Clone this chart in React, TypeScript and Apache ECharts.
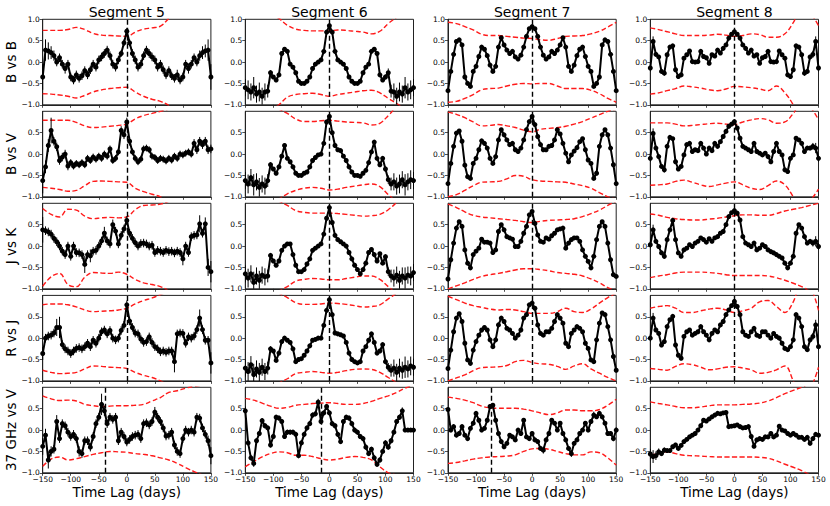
import React, { useEffect, useRef } from "react";
import * as echarts from "echarts";

const FONT = "DejaVu Sans";

const LAGS = [
  -150, -145, -140, -135, -130, -125, -120, -115, -110, -105,
  -100, -95, -90, -85, -80, -75, -70, -65, -60, -55,
  -50, -45, -40, -35, -30, -25, -20, -15, -10, -5,
  0, 5, 10, 15, 20, 25, 30, 35, 40, 45,
  50, 55, 60, 65, 70, 75, 80, 85, 90, 95,
  100, 105, 110, 115, 120, 125, 130, 135, 140, 145,
  150,
];
const BAND_LAGS = [-150, -135, -120, -105, -90, -75, -60, -45, -30, -15, 0, 15, 30, 45, 60, 75, 90, 105, 120, 135, 150];
const X_TICKS = [-150, -100, -50, 0, 50, 100, 150];
const Y_TICKS = [-1, -0.5, 0, 0.5, 1];

const SEGMENTS = ["Segment 5", "Segment 6", "Segment 7", "Segment 8"];
const PAIRS = ["B vs B", "B vs V", "J vs K", "R vs J", "37 GHz vs V"];

// ---------------- Segment 5 ----------------
const S5_BB = [
  -0.35, 0.28, 0.26, 0.22, 0.15, 0.0, 0.1, -0.05, -0.15, -0.05,
  -0.35, -0.42, -0.3, -0.38, -0.32, -0.2, -0.3, -0.18, -0.05, -0.12,
  0.05, 0.12, 0.2, 0.28, 0.15, -0.05, -0.12, 0.05, 0.2, 0.45,
  0.72, 0.45, 0.2, 0.05, -0.12, -0.05, 0.15, 0.28, 0.2, 0.12,
  0.05, -0.12, -0.05, -0.18, -0.3, -0.2, -0.32, -0.38, -0.3, -0.42,
  -0.35, -0.05, -0.15, -0.05, 0.1, 0.0, 0.15, 0.22, 0.26, 0.28,
  -0.35,
];
const S5_BV = [
  -0.62, -0.3, 0.2, 0.55, 0.3, 0.17, -0.15, -0.07, 0.0, -0.28,
  -0.2, -0.28, -0.22, -0.25, -0.2, -0.25, -0.1, -0.15, -0.07, -0.12,
  -0.05, -0.1, 0.0, -0.05, 0.12, -0.15, -0.1, 0.05, 0.55, 0.45,
  0.75, 0.3, 0.05, -0.1, -0.18, -0.12, 0.12, 0.14, 0.1, -0.05,
  -0.08, -0.15, -0.1, -0.12, -0.16, -0.1, -0.14, -0.05, -0.1, 0.0,
  -0.02, 0.02, 0.05, 0.0, 0.25, 0.1, 0.3, 0.22, 0.3, 0.1,
  0.12,
];
const S5_JK = [
  0.38, 0.36, 0.33, 0.28, 0.18, 0.1, 0.0, -0.12, -0.2, 0.0,
  -0.24, 0.0, -0.15, -0.16, -0.2, -0.43, -0.2, -0.23, -0.12, -0.1,
  0.0, 0.12, 0.3, 0.12, 0.05, 0.5, 0.35, 0.05, 0.25, 0.4,
  0.6, 0.3, 0.18, 0.08, 0.0, 0.06, 0.07, 0.05, 0.0, 0.02,
  -0.15, -0.1, -0.12, -0.15, -0.1, -0.13, -0.12, -0.16, -0.12, -0.15,
  -0.3, 0.0, -0.15, 0.22, 0.25, 0.26, 0.52, 0.3, 0.52, -0.5,
  -0.6,
];
const S5_RJ = [
  -0.36, 0.0, 0.05, 0.07, 0.12, 0.25, 0.25, -0.15, -0.25, -0.3,
  -0.36, -0.3, -0.24, -0.22, -0.25, -0.2, -0.12, -0.2, -0.05, -0.12,
  0.0, 0.15, 0.19, 0.1, 0.18, 0.0, -0.04, 0.0, 0.18, 0.3,
  0.78, 0.4, 0.25, 0.12, 0.1, -0.02, -0.1, -0.08, 0.03, -0.1,
  -0.2, -0.25, -0.32, -0.3, -0.33, -0.3, -0.3, -0.55, 0.1, 0.12,
  0.11, -0.12, 0.03, 0.0, 0.05, 0.2, 0.47, 0.2, -0.05, -0.05,
  -0.58,
];
const S5_GV = [
  -0.38, -0.12, -0.7, -0.5, -0.45, 0.2, -0.2, 0.15, 0.1, -0.05,
  -0.15, -0.1, -0.2, -0.5, -0.55, -0.25, -0.25, -0.4, -0.15, 0.15,
  0.3, 0.6, 0.45, 0.15, 0.3, 0.25, 0.3, -0.25, -0.05, -0.15,
  -0.28, -0.22, -0.15, -0.12, -0.1, -0.2, 0.15, 0.17, 0.12, 0.2,
  0.42, 0.3, 0.2, 0.05, -0.14, -0.12, -0.05, -0.35, -0.5, -0.55,
  -0.2, 0.0, -0.05, 0.0, -0.05, 0.3, 0.28, 0.05, -0.1, -0.25,
  -0.6,
];
const S5_BB_ERR = [
  0.3, 0.25, 0.2, 0.15, 0.12, 0.1, 0.1, 0.1, 0.12, 0.1,
  0.1, 0.1, 0.1, 0.1, 0.1, 0.1, 0.1, 0.1, 0.1, 0.1,
  0.1, 0.1, 0.1, 0.1, 0.1, 0.1, 0.1, 0.1, 0.08, 0.08,
  0.08, 0.08, 0.1, 0.1, 0.1, 0.1, 0.1, 0.1, 0.1, 0.1,
  0.1, 0.1, 0.1, 0.1, 0.1, 0.1, 0.1, 0.1, 0.12, 0.1,
  0.1, 0.1, 0.12, 0.1, 0.1, 0.1, 0.12, 0.15, 0.15, 0.25,
  0.3,
];
const S5_BV_ERR = [
  0.3, 0.15, 0.15, 0.3, 0.1, 0.1, 0.1, 0.1, 0.1, 0.1,
  0.08, 0.08, 0.08, 0.08, 0.08, 0.08, 0.08, 0.08, 0.08, 0.08,
  0.08, 0.08, 0.08, 0.08, 0.08, 0.08, 0.08, 0.08, 0.1, 0.1,
  0.1, 0.1, 0.08, 0.08, 0.08, 0.08, 0.08, 0.08, 0.08, 0.08,
  0.08, 0.08, 0.08, 0.08, 0.08, 0.08, 0.08, 0.08, 0.08, 0.08,
  0.08, 0.08, 0.08, 0.08, 0.1, 0.1, 0.1, 0.1, 0.1, 0.1,
  0.1,
];
const S5_JK_ERR = [
  0.3, 0.1, 0.1, 0.1, 0.1, 0.1, 0.1, 0.1, 0.1, 0.1,
  0.1, 0.1, 0.1, 0.1, 0.1, 0.2, 0.1, 0.15, 0.1, 0.1,
  0.1, 0.1, 0.15, 0.1, 0.1, 0.12, 0.1, 0.1, 0.1, 0.1,
  0.1, 0.1, 0.1, 0.1, 0.1, 0.1, 0.1, 0.1, 0.1, 0.1,
  0.1, 0.1, 0.1, 0.1, 0.1, 0.1, 0.1, 0.1, 0.1, 0.1,
  0.15, 0.1, 0.1, 0.1, 0.1, 0.1, 0.2, 0.1, 0.15, 0.2,
  0.25,
];
const S5_RJ_ERR = [
  0.15, 0.1, 0.1, 0.1, 0.1, 0.2, 0.25, 0.1, 0.1, 0.1,
  0.1, 0.1, 0.1, 0.1, 0.1, 0.1, 0.1, 0.1, 0.1, 0.1,
  0.1, 0.1, 0.1, 0.1, 0.1, 0.1, 0.1, 0.1, 0.1, 0.1,
  0.1, 0.1, 0.1, 0.1, 0.1, 0.1, 0.1, 0.1, 0.1, 0.1,
  0.1, 0.1, 0.1, 0.1, 0.1, 0.1, 0.1, 0.25, 0.1, 0.1,
  0.1, 0.1, 0.1, 0.1, 0.1, 0.1, 0.2, 0.1, 0.1, 0.1,
  0.25,
];
const S5_GV_ERR = [
  0.2, 0.15, 0.2, 0.12, 0.1, 0.15, 0.1, 0.1, 0.1, 0.1,
  0.1, 0.1, 0.1, 0.12, 0.1, 0.1, 0.1, 0.1, 0.1, 0.1,
  0.1, 0.25, 0.12, 0.1, 0.1, 0.1, 0.1, 0.1, 0.1, 0.1,
  0.1, 0.1, 0.1, 0.1, 0.1, 0.1, 0.1, 0.1, 0.1, 0.1,
  0.12, 0.1, 0.1, 0.1, 0.1, 0.1, 0.1, 0.1, 0.1, 0.1,
  0.1, 0.1, 0.1, 0.1, 0.1, 0.1, 0.1, 0.1, 0.1, 0.12,
  0.2,
];
const S5_BB_UP = [0.74, 0.74, 0.74, 0.76, 0.81, 0.76, 0.67, 0.63, 0.62, 0.61, 0.6, 0.7, 0.77, 0.8, 0.84, 1.02, 1.2, 1.3, 1.35, 1.4, 1.4];
const S5_BB_LO = [-0.74, -0.75, -0.77, -0.8, -0.84, -0.78, -0.7, -0.65, -0.62, -0.6, -0.59, -0.7, -0.8, -0.87, -0.92, -1.02, -1.2, -1.3, -1.4, -1.4, -1.4];
const S5_BV_UP = [0.79, 0.79, 0.79, 0.79, 0.74, 0.66, 0.62, 0.63, 0.65, 0.67, 0.7, 0.82, 0.9, 0.95, 1.0, 1.05, 1.1, 1.15, 1.2, 1.2, 1.2];
const S5_BV_LO = [-0.78, -0.8, -0.83, -0.87, -0.85, -0.74, -0.64, -0.63, -0.64, -0.65, -0.66, -0.8, -0.88, -0.94, -1.0, -1.1, -1.15, -1.2, -1.2, -1.2, -1.2];
const S5_JK_UP = [0.88, 0.74, 0.68, 0.86, 0.84, 0.7, 0.64, 0.66, 0.67, 0.66, 0.68, 0.85, 0.95, 0.96, 0.98, 1.05, 1.2, 1.2, 1.2, 1.2, 1.2];
const S5_JK_LO = [-0.94, -0.72, -0.64, -0.9, -0.95, -0.73, -0.62, -0.63, -0.64, -0.61, -0.66, -0.78, -0.86, -0.9, -0.95, -1.05, -1.2, -1.2, -1.2, -1.2, -1.2];
const S5_RJ_UP = [0.78, 0.8, 0.8, 0.78, 0.73, 0.66, 0.62, 0.63, 0.64, 0.66, 0.7, 0.8, 0.88, 0.94, 1.02, 1.1, 1.2, 1.2, 1.2, 1.2, 1.2];
const S5_RJ_LO = [-0.75, -0.8, -0.83, -0.82, -0.8, -0.72, -0.65, -0.66, -0.68, -0.69, -0.71, -0.8, -0.87, -0.92, -1.0, -1.1, -1.2, -1.2, -1.2, -1.2, -1.2];
const S5_GV_UP = [0.8, 0.73, 0.69, 0.7, 0.68, 0.6, 0.57, 0.55, 0.56, 0.57, 0.57, 0.58, 0.6, 0.68, 0.76, 0.88, 0.92, 0.98, 1.02, 1.05, 1.1];
const S5_GV_LO = [-0.85, -0.68, -0.63, -0.7, -0.67, -0.62, -0.57, -0.53, -0.5, -0.51, -0.52, -0.55, -0.57, -0.6, -0.65, -0.7, -0.78, -0.88, -0.97, -1.05, -1.1];

// ---------------- Segment 6 ----------------
const S6_BB = [
  -0.6, -0.65, -0.7, -0.6, -0.75, -0.7, -0.8, -0.7, -0.68, -0.25,
  -0.35, -0.42, -0.3, 0.2, 0.3, 0.25, -0.05, -0.12, -0.25, -0.45,
  -0.5, -0.5, -0.45, -0.35, -0.15, -0.05, 0.0, 0.05, 0.25, 0.7,
  0.85, 0.7, 0.25, 0.05, 0.0, -0.05, -0.15, -0.35, -0.45, -0.5,
  -0.5, -0.45, -0.25, -0.12, -0.05, 0.25, 0.3, 0.2, -0.3, -0.42,
  -0.35, -0.25, -0.68, -0.7, -0.8, -0.7, -0.75, -0.6, -0.7, -0.65,
  -0.6,
];
const S6_BV = [
  -0.62, -0.7, -0.55, -0.72, -0.65, -0.78, -0.7, -0.75, -0.62, -0.25,
  -0.35, -0.45, -0.3, -0.05, 0.2, -0.1, -0.18, -0.3, -0.45, -0.5,
  -0.5, -0.45, -0.42, -0.3, -0.15, -0.08, -0.02, 0.0, 0.25, 0.75,
  0.88, 0.5, 0.2, 0.1, 0.08, -0.05, -0.15, -0.3, -0.42, -0.5,
  -0.5, -0.52, -0.45, -0.38, -0.2, 0.05, 0.28, -0.1, -0.25, -0.1,
  -0.35, -0.6, -0.7, -0.65, -0.75, -0.7, -0.6, -0.72, -0.65, -0.6,
  -0.62,
];
const S6_JK = [
  -0.65, -0.75, -0.65, -0.85, -0.7, -0.8, -0.68, -0.72, -0.7, -0.22,
  -0.35, -0.45, -0.35, -0.1, 0.0, 0.05, 0.05, -0.2, -0.45, -0.6,
  -0.6, -0.55, -0.42, -0.3, -0.1, -0.05, 0.0, 0.05, 0.28, 0.65,
  0.9, 0.55, 0.25, 0.15, 0.1, 0.05, 0.0, -0.15, -0.3, -0.45,
  -0.55, -0.65, -0.55, -0.4, -0.15, -0.08, -0.2, -0.35, -0.18, -0.4,
  -0.25, -0.6, -0.7, -0.75, -0.68, -0.8, -0.7, -0.75, -0.68, -0.7,
  -0.62,
];
const S6_RJ = [
  -0.7, -0.78, -0.62, -0.85, -0.72, -0.8, -0.68, -0.78, -0.7, -0.25,
  -0.3, -0.52, -0.35, -0.08, 0.0, -0.05, -0.1, -0.25, -0.55, -0.5,
  -0.48, -0.4, -0.3, -0.18, -0.05, -0.03, 0.0, 0.0, 0.3, 0.65,
  0.9, 0.55, 0.12, 0.1, 0.08, 0.05, -0.1, -0.35, -0.5, -0.55,
  -0.58, -0.55, -0.3, -0.2, -0.05, 0.1, -0.1, -0.35, -0.3, -0.15,
  -0.55, -0.68, -0.75, -0.7, -0.8, -0.7, -0.75, -0.68, -0.72, -0.65,
  -0.68,
];
const S6_GV = [
  0.45, -0.3, -0.65, -0.78, -0.25, -0.08, 0.22, 0.1, 0.05, -0.35,
  -0.15, 0.3, 0.28, 0.2, -0.15, -0.05, -0.05, -0.05, -0.1, -0.6,
  -0.3, -0.1, 0.05, 0.15, 0.35, 0.38, 0.65, 0.2, 0.4, 0.55,
  0.4, 0.15, 0.1, -0.1, -0.27, 0.2, 0.3, 0.28, 0.15, 0.0,
  -0.05, -0.15, -0.2, -0.4, -0.55, -0.45, -0.65, -0.8, -0.7, -0.5,
  -0.3, -0.4, -0.25, -0.05, 0.2, 0.3, 0.45, 0.0, 0.0, 0.0,
  0.0,
];
const S6_ERR = [
  0.2, 0.22, 0.2, 0.25, 0.2, 0.22, 0.2, 0.2, 0.15, 0.06,
  0.04, 0.04, 0.04, 0.04, 0.04, 0.04, 0.04, 0.04, 0.04, 0.04,
  0.04, 0.04, 0.04, 0.04, 0.04, 0.04, 0.04, 0.04, 0.04, 0.04,
  0.04, 0.04, 0.04, 0.04, 0.04, 0.04, 0.04, 0.04, 0.04, 0.04,
  0.04, 0.04, 0.04, 0.04, 0.04, 0.04, 0.04, 0.04, 0.04, 0.04,
  0.06, 0.1, 0.15, 0.2, 0.2, 0.22, 0.2, 0.25, 0.2, 0.22,
  0.2,
];
const S6_GV_ERR = [
  0.1, 0.06, 0.06, 0.08, 0.06, 0.06, 0.06, 0.06, 0.06, 0.06,
  0.06, 0.06, 0.06, 0.06, 0.06, 0.06, 0.06, 0.06, 0.06, 0.06,
  0.06, 0.06, 0.06, 0.06, 0.06, 0.06, 0.08, 0.06, 0.06, 0.06,
  0.06, 0.06, 0.06, 0.06, 0.06, 0.06, 0.06, 0.06, 0.06, 0.06,
  0.06, 0.06, 0.06, 0.06, 0.06, 0.06, 0.06, 0.06, 0.06, 0.06,
  0.06, 0.06, 0.06, 0.06, 0.06, 0.06, 0.08, 0.04, 0.04, 0.04,
  0.04,
];
const S6_BB_UP = [1.5, 1.4, 1.25, 1.12, 1.02, 0.86, 0.77, 0.74, 0.73, 0.73, 0.73, 0.75, 0.74, 0.72, 0.7, 0.66, 0.72, 0.9, 1.05, 1.2, 1.3];
const S6_BB_LO = [-1.5, -1.4, -1.25, -1.1, -1.0, -0.82, -0.76, -0.74, -0.73, -0.76, -0.8, -0.76, -0.73, -0.7, -0.67, -0.66, -0.72, -0.85, -0.97, -1.1, -1.2];
const S6_BV_UP = [1.5, 1.4, 1.3, 1.15, 1.05, 0.95, 0.82, 0.76, 0.76, 0.78, 0.79, 0.77, 0.75, 0.74, 0.73, 0.68, 0.72, 0.9, 1.1, 1.2, 1.3];
const S6_BV_LO = [-1.5, -1.4, -1.3, -1.15, -1.05, -0.93, -0.85, -0.8, -0.78, -0.8, -0.84, -0.82, -0.78, -0.75, -0.72, -0.7, -0.76, -0.95, -1.1, -1.2, -1.3];
const S6_JK_UP = [1.5, 1.4, 1.3, 1.15, 1.05, 0.95, 0.83, 0.79, 0.77, 0.77, 0.77, 0.76, 0.74, 0.72, 0.7, 0.71, 0.74, 0.85, 1.02, 1.2, 1.3];
const S6_JK_LO = [-1.5, -1.4, -1.3, -1.15, -1.05, -0.95, -0.82, -0.78, -0.76, -0.77, -0.79, -0.79, -0.76, -0.73, -0.7, -0.7, -0.78, -0.95, -1.1, -1.2, -1.3];
const S6_RJ_UP = [1.5, 1.4, 1.3, 1.15, 1.05, 0.95, 0.83, 0.79, 0.79, 0.8, 0.82, 0.81, 0.79, 0.76, 0.73, 0.74, 0.78, 0.92, 1.05, 1.2, 1.3];
const S6_RJ_LO = [-1.5, -1.4, -1.3, -1.15, -1.05, -0.95, -0.83, -0.8, -0.78, -0.8, -0.82, -0.8, -0.76, -0.73, -0.72, -0.73, -0.8, -0.92, -1.05, -1.2, -1.3];
const S6_GV_UP = [0.74, 0.7, 0.63, 0.56, 0.51, 0.53, 0.58, 0.6, 0.62, 0.63, 0.64, 0.62, 0.6, 0.6, 0.62, 0.67, 0.74, 0.8, 0.88, 0.98, 1.05];
const S6_GV_LO = [-0.86, -0.74, -0.63, -0.55, -0.51, -0.53, -0.59, -0.59, -0.62, -0.67, -0.7, -0.68, -0.64, -0.62, -0.64, -0.7, -0.86, -1.0, -1.05, -1.08, -1.1];

// ---------------- Segment 7 ----------------
const S7_BB = [
  -0.67, -0.22, 0.18, 0.48, 0.52, 0.4, -0.35, -0.5, -0.57, -0.22,
  -0.1, 0.13, 0.35, 0.3, 0.15, -0.07, -0.22, -0.1, 0.35, 0.57,
  0.4, 0.28, 0.2, 0.25, 0.12, 0.07, 0.16, 0.35, 0.6, 0.78,
  0.83, 0.78, 0.6, 0.35, 0.16, 0.07, 0.12, 0.25, 0.2, 0.28,
  0.4, 0.57, 0.35, -0.1, -0.22, -0.07, 0.15, 0.3, 0.35, 0.13,
  -0.1, -0.22, -0.57, -0.5, -0.35, 0.4, 0.52, 0.48, 0.18, -0.22,
  -0.67,
];
const S7_BV = [
  -0.69, -0.22, 0.18, 0.49, 0.54, 0.3, -0.26, -0.53, -0.57, -0.22,
  -0.1, 0.1, 0.31, 0.25, 0.14, -0.1, -0.22, -0.06, 0.33, 0.57,
  0.45, 0.33, 0.22, 0.25, 0.1, 0.06, 0.14, 0.33, 0.57, 0.76,
  0.88, 0.69, 0.41, 0.22, 0.1, 0.1, 0.18, 0.2, 0.33, 0.57,
  0.47, 0.25, 0.02, -0.18, -0.02, 0.07, 0.15, 0.29, 0.36, 0.1,
  -0.14, -0.22, -0.57, -0.45, 0.18, 0.45, 0.57, 0.45, 0.14, -0.25,
  -0.69,
];
const S7_JK = [
  -0.77, -0.32, 0.07, 0.42, 0.57, 0.46, -0.09, -0.4, -0.51, -0.2,
  -0.12, -0.05, 0.16, 0.09, 0.09, 0.07, -0.15, -0.09, 0.34, 0.5,
  0.38, 0.22, 0.19, 0.16, -0.01, -0.01, 0.11, 0.3, 0.46, 0.73,
  0.81, 0.53, 0.26, 0.11, 0.09, 0.19, 0.16, 0.24, 0.3, 0.38,
  0.4, 0.42, -0.05, 0.07, 0.15, 0.19, 0.19, 0.11, -0.09, -0.24,
  -0.36, -0.51, -0.24, 0.15, 0.46, 0.57, 0.46, 0.07, -0.32, -0.67,
  -0.71,
];
const S7_RJ = [
  -0.71, -0.28, 0.15, 0.47, 0.57, 0.39, -0.12, -0.51, -0.59, -0.28,
  -0.08, 0.07, 0.19, 0.25, 0.19, -0.04, -0.2, -0.04, 0.31, 0.47,
  0.39, 0.23, 0.19, 0.11, 0.0, 0.07, 0.19, 0.47, 0.55, 0.78,
  0.82, 0.7, 0.31, 0.11, 0.07, 0.15, 0.15, 0.23, 0.39, 0.55,
  0.47, 0.35, -0.12, -0.2, 0.11, 0.19, 0.27, 0.23, 0.15, -0.12,
  -0.24, -0.51, -0.55, -0.04, 0.35, 0.59, 0.55, 0.27, -0.04, -0.43,
  -0.75,
];
const S7_GV = [
  0.48, 0.0, 0.08, -0.12, -0.08, 0.08, -0.12, -0.2, 0.04, 0.16,
  0.39, 0.23, 0.0, 0.04, 0.23, 0.55, 0.58, 0.23, -0.08, -0.27,
  -0.39, -0.31, -0.12, -0.16, -0.23, 0.0, -0.08, 0.23, -0.16, -0.2,
  -0.08, -0.23, -0.27, -0.43, -0.47, -0.23, -0.08, 0.23, 0.16, 0.0,
  0.16, -0.08, -0.23, -0.43, -0.55, -0.31, -0.23, -0.08, 0.0, 0.16,
  0.0, 0.2, 0.35, 0.31, 0.39, 0.31, 0.16, -0.08, -0.08, -0.2,
  0.0,
];
const S7_ERR = [
  0.03, 0.03, 0.03, 0.03, 0.03, 0.03, 0.03, 0.03, 0.03, 0.03,
  0.03, 0.03, 0.03, 0.03, 0.03, 0.03, 0.03, 0.03, 0.03, 0.03,
  0.03, 0.03, 0.03, 0.03, 0.03, 0.03, 0.03, 0.03, 0.03, 0.03,
  0.03, 0.03, 0.03, 0.03, 0.03, 0.03, 0.03, 0.03, 0.03, 0.03,
  0.03, 0.03, 0.03, 0.03, 0.03, 0.03, 0.03, 0.03, 0.03, 0.03,
  0.03, 0.03, 0.03, 0.03, 0.03, 0.03, 0.03, 0.03, 0.03, 0.03,
  0.03,
];
const S7_GV_ERR = [
  0.06, 0.05, 0.05, 0.05, 0.05, 0.05, 0.05, 0.05, 0.05, 0.05,
  0.05, 0.05, 0.05, 0.05, 0.05, 0.05, 0.05, 0.05, 0.05, 0.05,
  0.05, 0.05, 0.05, 0.05, 0.05, 0.05, 0.05, 0.05, 0.05, 0.05,
  0.05, 0.05, 0.05, 0.05, 0.08, 0.05, 0.05, 0.05, 0.05, 0.05,
  0.05, 0.05, 0.05, 0.05, 0.08, 0.05, 0.05, 0.05, 0.05, 0.05,
  0.05, 0.05, 0.08, 0.05, 0.05, 0.05, 0.05, 0.05, 0.05, 0.06,
  0.06,
];
const S7_BB_UP = [0.93, 0.9, 0.83, 0.75, 0.65, 0.62, 0.62, 0.6, 0.58, 0.56, 0.55, 0.52, 0.51, 0.55, 0.6, 0.61, 0.62, 0.66, 0.72, 0.82, 0.93];
const S7_BB_LO = [-0.94, -0.92, -0.85, -0.76, -0.65, -0.62, -0.61, -0.56, -0.52, -0.5, -0.51, -0.5, -0.5, -0.56, -0.62, -0.62, -0.62, -0.66, -0.74, -0.85, -0.94];
const S7_BV_UP = [0.98, 0.93, 0.85, 0.75, 0.66, 0.67, 0.69, 0.66, 0.62, 0.56, 0.52, 0.58, 0.6, 0.62, 0.65, 0.7, 0.76, 0.84, 0.92, 1.0, 1.05];
const S7_BV_LO = [-1.0, -0.95, -0.85, -0.74, -0.66, -0.65, -0.64, -0.58, -0.5, -0.52, -0.6, -0.63, -0.64, -0.65, -0.66, -0.7, -0.74, -0.8, -0.9, -1.0, -1.05];
const S7_JK_UP = [0.98, 0.9, 0.8, 0.72, 0.68, 0.66, 0.64, 0.62, 0.6, 0.57, 0.55, 0.58, 0.6, 0.61, 0.62, 0.64, 0.69, 0.76, 0.84, 0.95, 1.05];
const S7_JK_LO = [-1.0, -0.93, -0.86, -0.78, -0.71, -0.67, -0.64, -0.6, -0.56, -0.53, -0.53, -0.55, -0.58, -0.62, -0.64, -0.66, -0.7, -0.77, -0.86, -0.97, -1.05];
const S7_RJ_UP = [0.98, 0.9, 0.82, 0.76, 0.72, 0.68, 0.66, 0.67, 0.66, 0.62, 0.58, 0.58, 0.58, 0.62, 0.7, 0.62, 0.6, 0.68, 0.82, 0.95, 1.05];
const S7_RJ_LO = [-1.0, -0.93, -0.86, -0.76, -0.69, -0.68, -0.67, -0.64, -0.55, -0.52, -0.57, -0.6, -0.61, -0.66, -0.73, -0.65, -0.6, -0.72, -0.82, -0.92, -1.0];
const S7_GV_UP = [0.77, 0.74, 0.7, 0.64, 0.56, 0.52, 0.51, 0.51, 0.51, 0.49, 0.45, 0.4, 0.36, 0.4, 0.47, 0.47, 0.45, 0.45, 0.48, 0.58, 0.72];
const S7_GV_LO = [-0.78, -0.76, -0.72, -0.68, -0.65, -0.63, -0.62, -0.61, -0.58, -0.5, -0.44, -0.43, -0.45, -0.5, -0.55, -0.58, -0.58, -0.51, -0.53, -0.65, -0.82];

// ---------------- Segment 8 ----------------
const S8_BB = [
  -0.14, 0.48, 0.18, 0.12, -0.22, -0.26, 0.17, 0.35, 0.38, -0.18,
  -0.34, -0.3, 0.09, 0.17, 0.26, 0.01, 0.0, 0.01, 0.25, 0.13,
  0.1, -0.03, 0.17, 0.14, 0.28, 0.21, 0.32, 0.4, 0.56, 0.65,
  0.71, 0.65, 0.56, 0.4, 0.32, 0.21, 0.28, 0.14, 0.17, -0.03,
  0.1, 0.13, 0.25, 0.01, 0.0, 0.01, 0.26, 0.17, 0.09, -0.3,
  -0.34, -0.18, 0.38, 0.35, 0.17, -0.26, -0.22, 0.12, 0.18, 0.48,
  -0.14,
];
const S8_BV = [
  -0.1, 0.48, 0.14, -0.06, -0.29, -0.37, 0.18, 0.39, 0.36, -0.18,
  -0.35, -0.29, -0.02, 0.22, 0.25, 0.06, 0.1, 0.08, 0.25, 0.14,
  0.0, 0.14, 0.08, 0.25, 0.18, 0.29, 0.41, 0.53, 0.65, 0.7,
  0.76, 0.61, 0.37, 0.18, 0.14, 0.1, 0.06, 0.25, 0.06, 0.02,
  -0.02, 0.02, -0.06, -0.18, 0.06, 0.25, 0.06, -0.02, -0.37, -0.41,
  -0.1, -0.02, 0.37, 0.33, 0.25, 0.06, 0.14, 0.14, 0.18, 0.14,
  -0.1,
];
const S8_JK = [
  0.03, 0.38, 0.11, -0.01, -0.16, -0.24, 0.15, 0.38, 0.6, 0.15,
  -0.16, -0.24, -0.09, -0.05, 0.03, -0.01, 0.07, 0.11, 0.19, 0.15,
  0.09, 0.17, 0.11, 0.19, 0.22, 0.3, 0.34, 0.5, 0.69, 0.78,
  0.83, 0.77, 0.61, 0.22, 0.07, 0.03, -0.01, 0.07, -0.09, -0.05,
  0.03, -0.01, -0.09, -0.13, -0.16, -0.2, -0.24, -0.28, -0.4, -0.51,
  -0.4, -0.24, 0.3, 0.5, 0.42, 0.22, 0.07, 0.11, 0.07, 0.11,
  -0.01,
];
const S8_RJ = [
  0.0, 0.47, 0.19, 0.11, -0.16, -0.08, 0.27, 0.43, 0.51, -0.16,
  -0.4, -0.47, 0.04, 0.15, 0.19, 0.07, 0.11, 0.15, 0.27, 0.15,
  0.07, -0.04, 0.11, 0.19, 0.15, 0.31, 0.39, 0.55, 0.66, 0.76,
  0.86, 0.74, 0.55, 0.15, 0.07, 0.04, 0.15, 0.23, 0.07, 0.04,
  0.15, 0.15, 0.07, 0.0, 0.11, 0.04, 0.0, -0.12, -0.24, -0.27,
  -0.2, -0.04, 0.55, 0.47, 0.27, -0.2, -0.27, -0.04, 0.04, 0.31,
  -0.2,
];
const S8_GV = [
  -0.56, -0.62, -0.6, -0.51, -0.55, -0.47, -0.48, -0.48, -0.39, -0.35,
  -0.43, -0.36, -0.27, -0.22, -0.16, -0.12, -0.08, 0.0, 0.1, 0.23,
  0.21, 0.26, 0.31, 0.35, 0.39, 0.38, 0.4, 0.41, 0.08, 0.09,
  0.1, 0.12, 0.08, 0.05, 0.06, 0.08, -0.15, -0.38, -0.23, -0.2,
  -0.22, -0.16, -0.16, -0.08, -0.16, -0.12, 0.09, 0.0, -0.02, -0.08,
  -0.12, -0.08, -0.12, -0.17, -0.17, -0.22, -0.17, -0.31, -0.2, -0.1,
  -0.12,
];
const S8_ERR = [
  0.08, 0.12, 0.05, 0.05, 0.05, 0.06, 0.04, 0.04, 0.04, 0.04,
  0.04, 0.04, 0.04, 0.04, 0.04, 0.04, 0.04, 0.04, 0.04, 0.04,
  0.04, 0.04, 0.04, 0.04, 0.04, 0.04, 0.04, 0.04, 0.04, 0.04,
  0.04, 0.04, 0.04, 0.04, 0.04, 0.04, 0.04, 0.04, 0.04, 0.04,
  0.04, 0.04, 0.04, 0.04, 0.04, 0.04, 0.04, 0.04, 0.04, 0.04,
  0.04, 0.04, 0.04, 0.04, 0.04, 0.06, 0.05, 0.05, 0.08, 0.12,
  0.08,
];
const S8_GV_ERR = [
  0.12, 0.15, 0.1, 0.08, 0.06, 0.06, 0.05, 0.05, 0.05, 0.05,
  0.05, 0.04, 0.04, 0.04, 0.04, 0.04, 0.04, 0.04, 0.04, 0.04,
  0.04, 0.04, 0.04, 0.04, 0.04, 0.04, 0.04, 0.04, 0.04, 0.04,
  0.04, 0.04, 0.04, 0.04, 0.04, 0.04, 0.04, 0.04, 0.04, 0.04,
  0.04, 0.04, 0.04, 0.04, 0.04, 0.04, 0.04, 0.04, 0.04, 0.04,
  0.04, 0.04, 0.04, 0.04, 0.04, 0.04, 0.04, 0.05, 0.05, 0.05,
  0.05,
];
const S8_BB_UP = [0.8, 0.76, 0.71, 0.66, 0.62, 0.62, 0.62, 0.63, 0.65, 0.63, 0.6, 0.62, 0.66, 0.64, 0.58, 0.58, 0.66, 0.92, 1.25, 1.15, 0.85];
const S8_BB_LO = [-0.75, -0.72, -0.67, -0.62, -0.56, -0.58, -0.61, -0.65, -0.67, -0.63, -0.57, -0.58, -0.6, -0.63, -0.67, -0.56, -0.72, -1.0, -1.4, -1.5, -1.5];
const S8_BV_UP = [0.73, 0.73, 0.73, 0.7, 0.66, 0.67, 0.69, 0.71, 0.72, 0.7, 0.69, 0.75, 0.8, 0.83, 0.8, 0.72, 0.75, 0.95, 1.2, 1.1, 0.8];
const S8_BV_LO = [-0.73, -0.72, -0.7, -0.64, -0.61, -0.66, -0.72, -0.76, -0.72, -0.68, -0.65, -0.72, -0.8, -0.83, -0.74, -0.63, -0.72, -1.0, -1.3, -1.1, -0.82];
const S8_JK_UP = [0.75, 0.72, 0.67, 0.64, 0.62, 0.61, 0.61, 0.63, 0.65, 0.68, 0.71, 0.73, 0.73, 0.72, 0.72, 0.76, 0.82, 0.86, 0.9, 0.95, 1.0];
const S8_JK_LO = [-0.74, -0.7, -0.67, -0.63, -0.61, -0.61, -0.61, -0.62, -0.64, -0.67, -0.69, -0.69, -0.69, -0.69, -0.7, -0.74, -0.8, -0.87, -0.95, -1.05, -1.1];
const S8_RJ_UP = [0.7, 0.74, 0.76, 0.7, 0.6, 0.6, 0.64, 0.68, 0.7, 0.66, 0.6, 0.64, 0.7, 0.85, 0.88, 0.74, 0.6, 0.85, 1.3, 1.2, 0.65];
const S8_RJ_LO = [-0.71, -0.73, -0.75, -0.66, -0.6, -0.62, -0.68, -0.74, -0.72, -0.68, -0.67, -0.7, -0.74, -0.82, -0.8, -0.74, -0.65, -1.0, -1.4, -1.2, -0.68];
const S8_GV_UP = [0.66, 0.62, 0.59, 0.55, 0.52, 0.52, 0.54, 0.57, 0.59, 0.59, 0.59, 0.6, 0.61, 0.63, 0.68, 0.76, 0.85, 0.93, 1.0, 1.1, 1.2];
const S8_GV_LO = [-0.59, -0.55, -0.51, -0.55, -0.59, -0.6, -0.61, -0.62, -0.63, -0.63, -0.63, -0.63, -0.63, -0.64, -0.66, -0.72, -0.8, -0.87, -0.95, -1.05, -1.15];

// Lag of the marked peak for each row (pair) and column (segment); null = no line
const PEAK_LAGS = [
  [0, 0, 0, 0],
  [0, 0, 0, 0],
  [0, 0, 0, 0],
  [0, 0, 0, 0],
  [-38, -15, -73, null],
];

// rows = pairs, columns = segments
const PANELS = [
  [
    { ccf: S5_BB, err: S5_BB_ERR, up: S5_BB_UP, lo: S5_BB_LO },
    { ccf: S6_BB, err: S6_ERR, up: S6_BB_UP, lo: S6_BB_LO },
    { ccf: S7_BB, err: S7_ERR, up: S7_BB_UP, lo: S7_BB_LO },
    { ccf: S8_BB, err: S8_ERR, up: S8_BB_UP, lo: S8_BB_LO },
  ],
  [
    { ccf: S5_BV, err: S5_BV_ERR, up: S5_BV_UP, lo: S5_BV_LO },
    { ccf: S6_BV, err: S6_ERR, up: S6_BV_UP, lo: S6_BV_LO },
    { ccf: S7_BV, err: S7_ERR, up: S7_BV_UP, lo: S7_BV_LO },
    { ccf: S8_BV, err: S8_ERR, up: S8_BV_UP, lo: S8_BV_LO },
  ],
  [
    { ccf: S5_JK, err: S5_JK_ERR, up: S5_JK_UP, lo: S5_JK_LO },
    { ccf: S6_JK, err: S6_ERR, up: S6_JK_UP, lo: S6_JK_LO },
    { ccf: S7_JK, err: S7_ERR, up: S7_JK_UP, lo: S7_JK_LO },
    { ccf: S8_JK, err: S8_ERR, up: S8_JK_UP, lo: S8_JK_LO },
  ],
  [
    { ccf: S5_RJ, err: S5_RJ_ERR, up: S5_RJ_UP, lo: S5_RJ_LO },
    { ccf: S6_RJ, err: S6_ERR, up: S6_RJ_UP, lo: S6_RJ_LO },
    { ccf: S7_RJ, err: S7_ERR, up: S7_RJ_UP, lo: S7_RJ_LO },
    { ccf: S8_RJ, err: S8_ERR, up: S8_RJ_UP, lo: S8_RJ_LO },
  ],
  [
    { ccf: S5_GV, err: S5_GV_ERR, up: S5_GV_UP, lo: S5_GV_LO },
    { ccf: S6_GV, err: S6_GV_ERR, up: S6_GV_UP, lo: S6_GV_LO },
    { ccf: S7_GV, err: S7_GV_ERR, up: S7_GV_UP, lo: S7_GV_LO },
    { ccf: S8_GV, err: S8_GV_ERR, up: S8_GV_UP, lo: S8_GV_LO },
  ],
];

// layout (pixels)
const COL_LEFT = [42.7, 245.3, 448, 650.3];
const ROW_TOP = [19.3, 111.3, 203.3, 295.4, 387.3];
const PANEL_W = 168.2;
const PANEL_H = 85.5;

const minus = (s: string) => s.replace("-", "\u2212");

function buildOption() {
  const grid: any[] = [];
  const xAxis: any[] = [];
  const yAxis: any[] = [];
  const series: any[] = [];
  const graphic: any[] = [];

  for (let r = 0; r < PAIRS.length; r++) {
    for (let c = 0; c < SEGMENTS.length; c++) {
      const i = r * SEGMENTS.length + c;
      const p = PANELS[r][c];
      grid.push({
        left: COL_LEFT[c],
        top: ROW_TOP[r],
        width: PANEL_W,
        height: PANEL_H,
        show: true,
        borderColor: "#222",
        borderWidth: 1,
        backgroundColor: "transparent",
        containLabel: false,
      });
      xAxis.push({
        gridIndex: i,
        type: "value",
        min: X_TICKS[0],
        max: X_TICKS[X_TICKS.length - 1],
        interval: 50,
        axisLine: { show: true, onZero: false, lineStyle: { color: "#222", width: 1 } },
        axisTick: { show: true, inside: false, length: 3, lineStyle: { color: "#222", width: 0.8 } },
        splitLine: { show: false },
        axisLabel: {
          show: r === PAIRS.length - 1,
          fontSize: 7.5,
          fontFamily: FONT,
          color: "#000",
          margin: 3,
          formatter: (v: number) => minus(String(v)),
        },
        name: r === PAIRS.length - 1 ? "Time Lag (days)" : "",
        nameLocation: "middle",
        nameGap: 12,
        nameTextStyle: { fontSize: 13.5, fontFamily: FONT, color: "#000" },
      });
      yAxis.push({
        gridIndex: i,
        type: "value",
        min: Y_TICKS[0],
        max: Y_TICKS[Y_TICKS.length - 1],
        interval: 0.5,
        axisLine: { show: true, onZero: false, lineStyle: { color: "#222", width: 1 } },
        axisTick: { show: true, inside: false, length: 3, lineStyle: { color: "#222", width: 0.8 } },
        splitLine: { show: false },
        axisLabel: {
          fontSize: 7.5,
          fontFamily: FONT,
          color: "#000",
          margin: 3,
          showMaxLabel: r === 0,
          formatter: (v: number) => minus(v.toFixed(1)),
        },
        name: c === 0 ? PAIRS[r] : "",
        nameLocation: "middle",
        nameRotate: 90,
        nameGap: 24,
        nameTextStyle: { fontSize: 13.5, fontFamily: FONT, color: "#000" },
      });

      const bandStyle = { color: "#ff1a1a", width: 1.4, type: [5, 2.5] };
      series.push({
        type: "line",
        xAxisIndex: i,
        yAxisIndex: i,
        data: BAND_LAGS.map((x, k) => [x, p.up[k]]),
        smooth: 0.4,
        symbol: "none",
        silent: true,
        clip: true,
        lineStyle: bandStyle,
        z: 2,
      });
      series.push({
        type: "line",
        xAxisIndex: i,
        yAxisIndex: i,
        data: BAND_LAGS.map((x, k) => [x, p.lo[k]]),
        smooth: 0.4,
        symbol: "none",
        silent: true,
        clip: true,
        lineStyle: bandStyle,
        z: 2,
      });
      series.push({
        type: "custom",
        xAxisIndex: i,
        yAxisIndex: i,
        silent: true,
        clip: true,
        data: LAGS.map((x, k) => [x, p.ccf[k], p.err[k]]),
        encode: { x: 0, y: 1 },
        renderItem: (_params: any, api: any) => {
          const x = api.value(0);
          const y = api.value(1);
          const e = api.value(2);
          const a = api.coord([x, y - e]);
          const b = api.coord([x, y + e]);
          return {
            type: "line",
            shape: { x1: a[0], y1: a[1], x2: b[0], y2: b[1] },
            style: { stroke: "#000", lineWidth: 1 },
          };
        },
        z: 3,
      });
      const peak = PEAK_LAGS[r][c];
      series.push({
        type: "line",
        xAxisIndex: i,
        yAxisIndex: i,
        data: LAGS.map((x, k) => [x, p.ccf[k]]),
        symbol: "circle",
        symbolSize: 5,
        showSymbol: true,
        silent: true,
        clip: true,
        lineStyle: { color: "#000", width: 2 },
        itemStyle: { color: "#000" },
        z: 4,
        markLine:
          peak === null
            ? undefined
            : {
                silent: true,
                symbol: ["none", "none"],
                label: { show: false },
                lineStyle: { color: "#000", type: [5, 3], width: 1.4 },
                data: [{ xAxis: peak }],
              },
      });
    }
  }

  SEGMENTS.forEach((s, c) => {
    graphic.push({
      type: "text",
      x: COL_LEFT[c] + PANEL_W / 2,
      y: 11.5,
      style: {
        text: s,
        fontSize: 14,
        fontFamily: FONT,
        fill: "#000",
        align: "center",
        verticalAlign: "middle",
      },
    });
  });

  return {
    animation: false,
    backgroundColor: "#fff",
    grid,
    xAxis,
    yAxis,
    series,
    graphic,
  };
}

export default function App() {
  const ref = useRef<HTMLDivElement>(null);
  useEffect(() => {
    if (!ref.current) return;
    const chart = echarts.init(ref.current, undefined, { renderer: "svg" });
    chart.setOption(buildOption() as any);
    return () => chart.dispose();
  }, []);
  return (
    <div
      ref={ref}
      style={{ position: "fixed", left: 0, top: 0, width: 830, height: 506, background: "#fff" }}
    />
  );
}
